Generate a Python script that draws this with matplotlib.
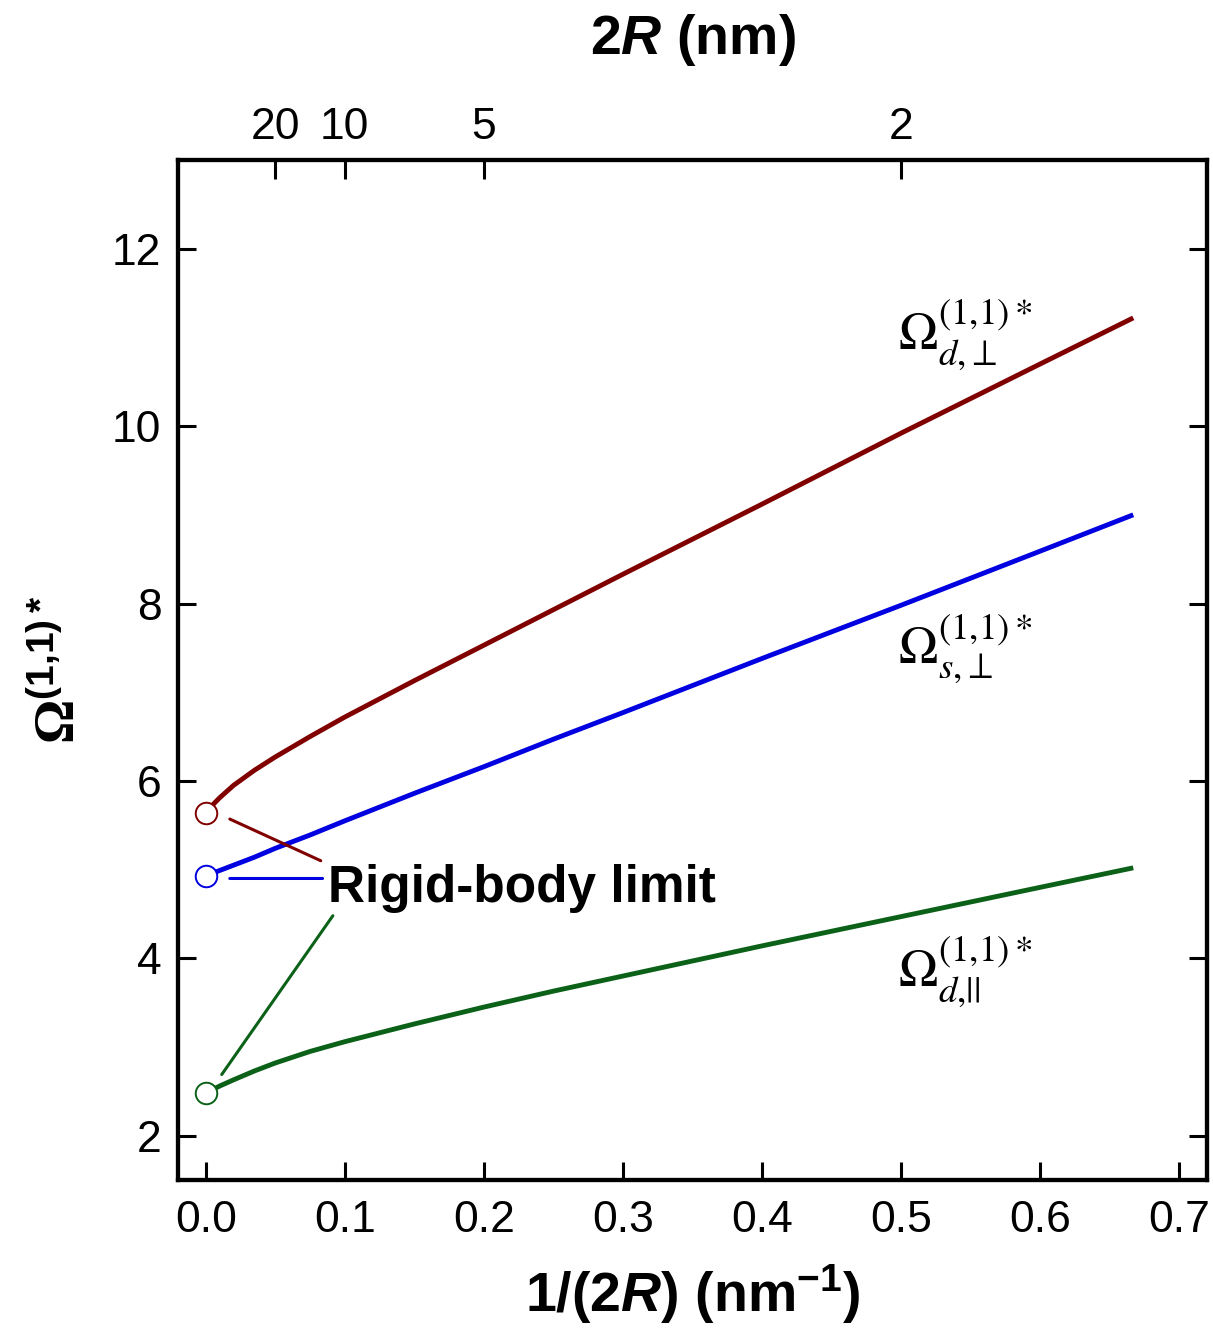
import matplotlib
matplotlib.use('Agg')
import matplotlib.pyplot as plt

plt.rcParams['font.family'] = ['Liberation Sans', 'DejaVu Sans']
plt.rcParams['mathtext.fontset'] = 'custom'
plt.rcParams['mathtext.rm'] = 'Liberation Sans:bold'
plt.rcParams['mathtext.it'] = 'Liberation Sans:italic:bold'
plt.rcParams['mathtext.bf'] = 'Liberation Serif:bold'
plt.rcParams['mathtext.sf'] = 'Liberation Sans:bold'

# data
inv_d = [0.0, 0.005, 0.01, 0.02, 0.035, 0.05, 0.075, 0.1, 0.15, 0.2, 0.25, 0.3, 0.4, 0.5, 0.6, 0.667]
omega_d_perp = [5.64, 5.73, 5.81, 5.95, 6.12, 6.27, 6.50, 6.72, 7.13, 7.53, 7.93, 8.33, 9.12, 9.92, 10.7, 11.22]
omega_s_perp = [4.93, 4.96, 4.99, 5.05, 5.14, 5.24, 5.39, 5.55, 5.86, 6.16, 6.47, 6.77, 7.38, 7.98, 8.59, 9.0]
omega_d_par = [2.48, 2.52, 2.56, 2.63, 2.73, 2.82, 2.95, 3.06, 3.26, 3.45, 3.63, 3.80, 4.14, 4.47, 4.80, 5.02]

top_diam = [20, 10, 5, 2]

red = '#800000'
blue = '#0000E0'
green = '#0B6118'

fig = plt.figure(figsize=(12.13, 13.39), dpi=100)
ax = fig.add_axes([0.1467, 0.1187, 0.8483, 0.7618])

for ys, c in [(omega_d_perp, red), (omega_s_perp, blue), (omega_d_par, green)]:
    ax.plot(inv_d, ys, color=c, lw=3.5, solid_capstyle='butt', zorder=3)
    ax.plot(inv_d[0], ys[0], 'o', ms=15.5, mfc='white', mec=c, mew=1.4, zorder=4)

ax.set_xlim(-0.02, 0.72)
ax.set_ylim(1.5, 13)
ax.set_xticks([0.0, 0.1, 0.2, 0.3, 0.4, 0.5, 0.6, 0.7])
ax.set_yticks([2, 4, 6, 8, 10, 12])
ax.tick_params(direction='in', length=13, width=2.2, labelsize=32, right=True, pad=12)
ax.tick_params(axis='x', pad=14)
for s in ax.spines.values():
    s.set_linewidth(3)

ax.set_xlabel('1/(2$\\mathit{R}$) (nm$^{\\mathsf{-1}}$)', fontsize=40, fontweight='bold', labelpad=16)
ax.set_ylabel('$\\mathbf{\\Omega}^{\\mathsf{(1{,}1)*}}$', fontsize=40, labelpad=18)

ax2 = ax.twiny()
ax2.set_xlim(ax.get_xlim())
ax2.set_xticks([1 / d for d in top_diam])
ax2.set_xticklabels([str(d) for d in top_diam])
ax2.tick_params(direction='in', length=14, width=2.2, labelsize=32, pad=9)
ax2.set_xlabel('2$\\mathit{R}$ (nm)', fontsize=40, fontweight='bold', labelpad=38)
for s in ax2.spines.values():
    s.set_linewidth(3)

# curve labels
lab_kw = dict(fontsize=38, math_fontfamily='stix', va='baseline', ha='left')
ax.text(0.498, 10.85, r'$\Omega_{d{,}\perp}^{\left(1{,}1\right)*}$', **lab_kw)
ax.text(0.498, 7.31, r'$\Omega_{s{,}\perp}^{\left(1{,}1\right)*}$', **lab_kw)
ax.text(0.498, 3.67, r'$\Omega_{d{,}||}^{\left(1{,}1\right)*}$', **lab_kw)

# rigid-body limit annotation
ax.text(0.0878, 4.63, 'Rigid-body limit', fontsize=37, fontweight='bold', va='baseline', ha='left')
leaders = [((0.0173, 5.57), (0.0827, 5.10), red),
           ((0.0173, 4.90), (0.084, 4.90), blue),
           ((0.0115, 2.69), (0.0914, 4.48), green)]
for p0, p1, c in leaders:
    ax.annotate('', xy=p0, xytext=p1,
                arrowprops=dict(arrowstyle='-', color=c, lw=2.2, shrinkA=0, shrinkB=0))

fig.savefig('out.png', dpi=100)
